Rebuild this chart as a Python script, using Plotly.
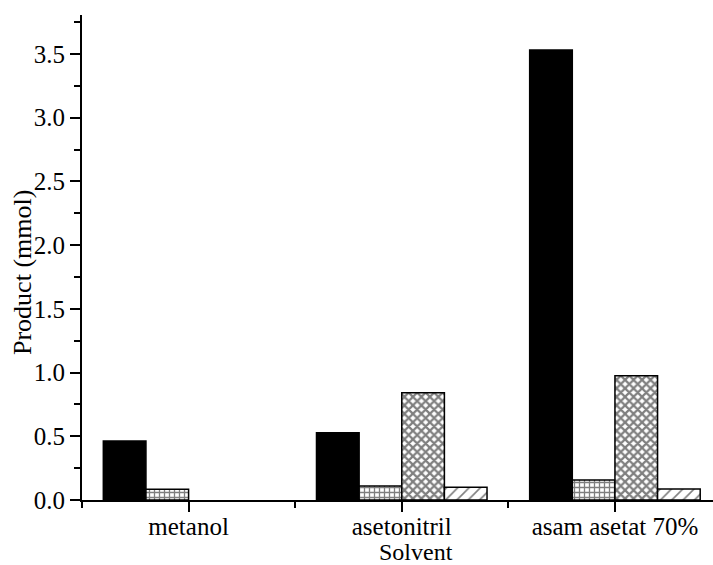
import plotly.graph_objects as go

categories = ["metanol", "asetonitril", "asam asetat 70%"]
series_a = [0.463, 0.528, 3.532]   # solid black
series_b = [0.084, 0.110, 0.157]   # grid pattern
series_c = [0.0, 0.842, 0.976]     # cross-hatch
series_d = [0.0, 0.100, 0.086]     # diagonal
y_ticks = [0.0, 0.5, 1.0, 1.5, 2.0, 2.5, 3.0, 3.5]

xpos = list(range(len(categories)))
FONT = "Liberation Serif, Times New Roman, serif"


def outline(vals):
    # no outline on empty (zero) bars
    return dict(color="black", width=[1.5 if v > 0 else 0 for v in vals])


fig = go.Figure()
fig.add_trace(go.Bar(x=xpos, y=series_a, marker=dict(color="black", line=outline(series_a))))
fig.add_trace(go.Bar(x=xpos, y=series_b, marker=dict(color="white", line=outline(series_b),
              pattern=dict(shape="+", fgcolor="black", bgcolor="white", size=5, solidity=0.45))))
fig.add_trace(go.Bar(x=xpos, y=series_c, marker=dict(color="white", line=outline(series_c),
              pattern=dict(shape="x", fgcolor="black", bgcolor="white", size=6, solidity=0.6))))
fig.add_trace(go.Bar(x=xpos, y=series_d, marker=dict(color="white", line=outline(series_d),
              pattern=dict(shape="/", fgcolor="black", bgcolor="white", size=8, solidity=0.2))))

fig.update_layout(
    width=713, height=565,
    margin=dict(l=82, r=0, t=15, b=65),
    barmode="group", bargap=0.2, bargroupgap=0,
    showlegend=False,
    plot_bgcolor="white", paper_bgcolor="white",
    font=dict(family=FONT, size=25, color="black"),
)
fig.update_xaxes(
    range=[-0.5, 2.46], tickvals=xpos, ticktext=categories,
    showline=True, linecolor="black", linewidth=2,
    ticks="outside", ticklen=10, tickwidth=2, tickcolor="black",
    ticklabelstandoff=-7,
    minor=dict(ticks="outside", ticklen=6, tickwidth=2, tickcolor="black", tick0=0.5, dtick=1),
    showgrid=False, zeroline=False,
)
fig.update_yaxes(
    range=[0, 3.806], tickvals=y_ticks, tickformat=".1f",
    showline=True, linecolor="black", linewidth=2,
    ticks="outside", ticklen=10, tickwidth=2, tickcolor="black",
    minor=dict(ticks="outside", ticklen=6, tickwidth=2, tickcolor="black", tick0=0.25, dtick=0.5),
    showgrid=False, zeroline=False,
)
fig.add_annotation(text="Product (mmol)", textangle=-90, xref="paper", yref="paper",
                   x=(22 - 82) / 631, y=(500 - 273) / 485, showarrow=False,
                   xanchor="center", yanchor="middle", font=dict(size=26))
fig.add_annotation(text="Solvent", xref="paper", yref="paper",
                   x=(416 - 82) / 631, y=(500 - 551.5) / 485, showarrow=False,
                   xanchor="center", yanchor="middle", font=dict(size=24))

fig.write_html("out.html")
